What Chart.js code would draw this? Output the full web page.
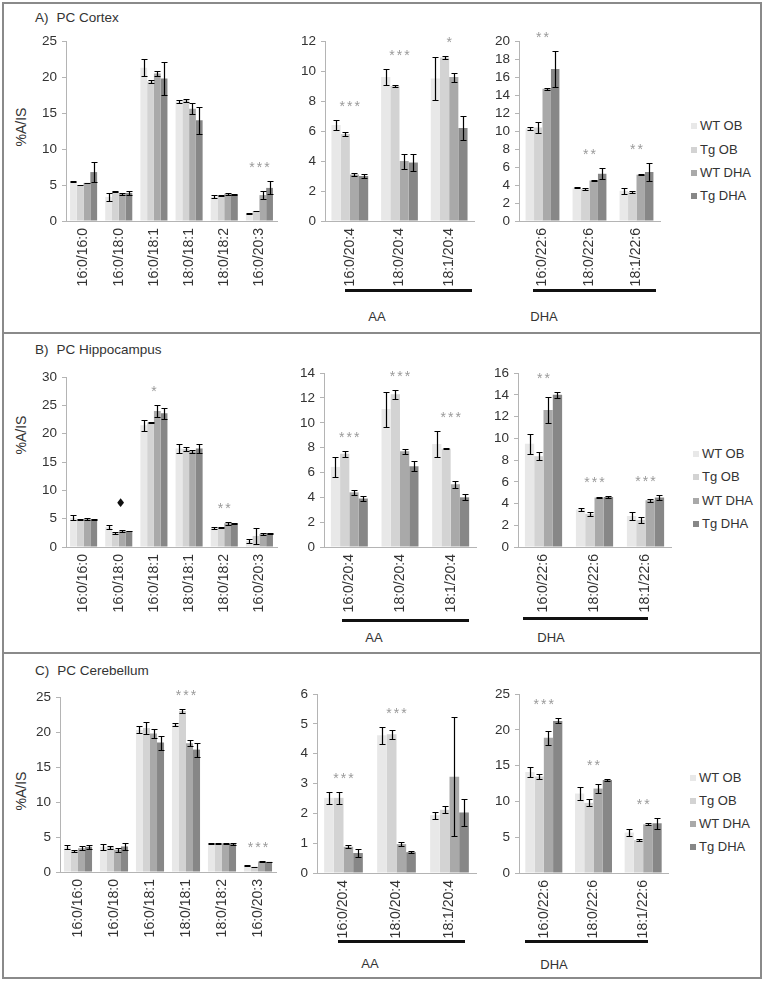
<!DOCTYPE html>
<html>
<head>
<meta charset="utf-8">
<script src="https://cdn.jsdelivr.net/npm/chart.js@4.4.0/dist/chart.umd.min.js"></script>
<style>
  body { margin: 0; background: #fff; }
  #fig { position: relative; width: 766px; height: 981px; font-family: "Liberation Sans", Arial, sans-serif; color: #333; }
  #fig canvas { position: absolute; }
  .line { position: absolute; background: #8a8a8a; }
  .ttl { position: absolute; font-size: 13.5px; line-height: 16px; white-space: nowrap; }
  .ytl { position: absolute; font-size: 14px; white-space: nowrap; transform: translate(-50%, -50%) rotate(-90deg); }
  .grp { position: absolute; font-size: 13px; transform: translate(-50%, -50%); }
  .under { position: absolute; height: 3px; background: #111; }
  .leg { position: absolute; font-size: 13px; line-height: 16px; white-space: nowrap; }
  .leg i { display: inline-block; width: 6px; height: 6px; margin-right: 3px; vertical-align: 1px; }
</style>
</head>
<body>
<div id="fig">
  <!-- frame -->
  <div class="line" style="left:2px;top:2px;width:760px;height:2px"></div>
  <div class="line" style="left:2px;top:332px;width:760px;height:2px"></div>
  <div class="line" style="left:2px;top:652px;width:760px;height:2px"></div>
  <div class="line" style="left:2px;top:977px;width:760px;height:2px"></div>
  <div class="line" style="left:2px;top:2px;width:2px;height:977px"></div>
  <div class="line" style="left:760px;top:2px;width:2px;height:977px"></div>

  <div class="ttl" style="left:35px;top:10px">A)<span style="margin-left:8px">PC Cortex</span></div>
  <div class="ttl" style="left:35px;top:342px">B)<span style="margin-left:8px">PC Hippocampus</span></div>
  <div class="ttl" style="left:35px;top:663px">C)<span style="margin-left:8px">PC Cerebellum</span></div>

  <div class="ytl" style="left:21px;top:127px">%A/IS</div>
  <div class="ytl" style="left:21px;top:435px">%A/IS</div>
  <div class="ytl" style="left:21px;top:791px">%A/IS</div>

  <div class="under" style="left:345px;top:289px;width:127px"></div>
  <div class="under" style="left:533px;top:289px;width:123px"></div>
  <div class="grp" style="left:377px;top:316px">AA</div>
  <div class="grp" style="left:544px;top:316px">DHA</div>

  <div class="under" style="left:342px;top:619px;width:127px"></div>
  <div class="under" style="left:523px;top:617px;width:125px"></div>
  <div class="grp" style="left:374px;top:637px">AA</div>
  <div class="grp" style="left:551px;top:637px">DHA</div>

  <div class="under" style="left:338px;top:940px;width:127px"></div>
  <div class="under" style="left:525px;top:940px;width:123px"></div>
  <div class="grp" style="left:370px;top:963px">AA</div>
  <div class="grp" style="left:554px;top:964px">DHA</div>
</div>
<script>
Chart.defaults.font.family = '"Liberation Sans", Arial, sans-serif';
Chart.defaults.color = '#333';

// series and categories
var seriesNames = ['WT OB', 'Tg OB', 'WT DHA', 'Tg DHA'];
var seriesColors = ['#e8e8e8', '#d3d3d3', '#a9a9a9', '#878787'];
var mainLabels = ['16:0/16:0', '16:0/18:0', '16:0/18:1', '18:0/18:1', '18:0/18:2', '16:0/20:3'];
var aaLabels = ['16:0/20:4', '18:0/20:4', '18:1/20:4'];
var dhaLabels = ['16:0/22:6', '18:0/22:6', '18:1/22:6'];

// A) cortex  (rows = WT OB, Tg OB, WT DHA, Tg DHA)
var cortexMain = [
  [5.5, 3.35, 21.3, 16.6, 3.35, 1.0],
  [5.0, 4.1, 19.4, 16.8, 3.5, 1.4],
  [5.3, 3.8, 20.5, 15.6, 3.8, 3.6],
  [6.8, 3.9, 19.8, 14.0, 3.7, 4.6]
];
var cortexMainErr = [
  [0.1, 0.55, 1.2, 0.2, 0.2, 0.05],
  [0.05, 0.12, 0.2, 0.2, 0.05, 0.05],
  [0.05, 0.12, 0.4, 0.8, 0.15, 0.55],
  [1.4, 0.25, 2.3, 1.9, 0.08, 0.9]
];
var cortexMainSig = ['', '', '', '', '', '***'];

var cortexAA = [
  [6.4, 9.6, 9.5],
  [5.8, 9.0, 10.9],
  [3.1, 4.0, 9.6],
  [3.0, 3.9, 6.2]
];
var cortexAAErr = [
  [0.33, 0.55, 1.45],
  [0.15, 0.05, 0.1],
  [0.12, 0.5, 0.3],
  [0.12, 0.55, 0.8]
];
var cortexAASig = ['***', '***', '*'];

var cortexDHA = [
  [10.3, 3.7, 3.35],
  [10.4, 3.55, 3.2],
  [14.7, 4.5, 5.15],
  [16.9, 5.25, 5.45]
];
var cortexDHAErr = [
  [0.2, 0.05, 0.3],
  [0.65, 0.1, 0.08],
  [0.1, 0.05, 0.05],
  [2.0, 0.6, 1.0]
];
var cortexDHASig = ['**', '**', '**'];

// B) hippocampus
var hippoMain = [
  [5.15, 3.5, 21.5, 17.4, 3.35, 1.05],
  [4.9, 2.5, 22.0, 17.3, 3.4, 1.95],
  [5.0, 2.8, 24.0, 16.9, 4.2, 2.3],
  [4.9, 2.8, 23.6, 17.4, 4.2, 2.45]
];
var hippoMainErr = [
  [0.45, 0.4, 1.0, 0.8, 0.2, 0.35],
  [0.05, 0.15, 0.1, 0.4, 0.05, 1.35],
  [0.2, 0.15, 1.1, 0.3, 0.25, 0.2],
  [0.05, 0.05, 0.95, 0.75, 0.1, 0.1]
];
var hippoMainSig = ['', '\u2666', '*', '', '**', ''];

var hippoAA = [
  [6.45, 11.1, 8.3],
  [7.5, 12.3, 7.9],
  [4.4, 7.7, 5.05],
  [3.9, 6.5, 4.0]
];
var hippoAAErr = [
  [0.8, 1.4, 1.05],
  [0.25, 0.35, 0.05],
  [0.2, 0.2, 0.3],
  [0.2, 0.4, 0.25]
];
var hippoAASig = ['***', '***', '***'];

var hippoDHA = [
  [9.5, 3.45, 2.85],
  [8.35, 3.05, 2.5],
  [12.6, 4.55, 4.3],
  [14.0, 4.6, 4.55]
];
var hippoDHAErr = [
  [0.9, 0.15, 0.35],
  [0.35, 0.2, 0.3],
  [1.2, 0.03, 0.15],
  [0.25, 0.05, 0.25]
];
var hippoDHASig = ['**', '***', '***'];

// C) cerebellum
var cerebMain = [
  [3.55, 3.6, 20.3, 21.1, 4.1, 0.9],
  [3.0, 3.55, 20.6, 23.0, 4.1, 0.75],
  [3.4, 3.2, 19.8, 18.4, 4.1, 1.5],
  [3.6, 3.65, 18.5, 17.5, 4.0, 1.45]
];
var cerebMainErr = [
  [0.25, 0.4, 0.5, 0.2, 0.05, 0.03],
  [0.2, 0.2, 0.9, 0.3, 0.1, 0.02],
  [0.25, 0.3, 0.6, 0.4, 0.1, 0.1],
  [0.3, 0.45, 1.0, 1.0, 0.2, 0.05]
];
var cerebMainSig = ['', '', '', '***', '', '***'];

var cerebAA = [
  [2.52, 4.62, 1.94],
  [2.52, 4.65, 2.12],
  [0.88, 0.97, 3.23],
  [0.67, 0.7, 2.03]
];
var cerebAAErr = [
  [0.2, 0.28, 0.12],
  [0.2, 0.15, 0.12],
  [0.05, 0.07, 2.0],
  [0.12, 0.04, 0.45]
];
var cerebAASig = ['***', '***', ''];

var cerebDHA = [
  [14.1, 11.1, 5.65],
  [13.5, 9.8, 4.6],
  [18.9, 11.8, 6.8],
  [21.25, 13.0, 6.95]
];
var cerebDHAErr = [
  [0.7, 0.85, 0.5],
  [0.35, 0.5, 0.15],
  [1.0, 0.6, 0.15],
  [0.35, 0.15, 0.75]
];
var cerebDHASig = ['***', '**', '**'];

// error bars + significance marks
var errorBars = {
  id: 'errorBars',
  afterDatasetsDraw: function(chart, args, opts) {
    var ctx = chart.ctx, ys = chart.scales.y, xs = chart.scales.x;
    ctx.save();
    ctx.strokeStyle = '#000';
    ctx.lineWidth = 1.2;
    chart.data.datasets.forEach(function(ds, i) {
      chart.getDatasetMeta(i).data.forEach(function(bar, j) {
        var e = ds.err[j];
        if (!e) return;
        var x = Math.round(bar.x) + 0.5;
        var t = Math.round(ys.getPixelForValue(ds.data[j] + e)) + 0.5;
        var b = Math.round(ys.getPixelForValue(ds.data[j] - e)) + 0.5;
        ctx.beginPath();
        ctx.moveTo(x, t); ctx.lineTo(x, b);
        ctx.moveTo(x - 3, t); ctx.lineTo(x + 3, t);
        ctx.moveTo(x - 3, b); ctx.lineTo(x + 3, b);
        ctx.stroke();
      });
    });
    (opts.sig || []).forEach(function(s, j) {
      if (!s) return;
      var top = 0;
      chart.data.datasets.forEach(function(ds) { top = Math.max(top, ds.data[j] + ds.err[j]); });
      var cx = xs.getPixelForValue(j);
      var cy = ys.getPixelForValue(top) - 17;
      ctx.textAlign = 'center';
      if (s === '\u2666') {
        ctx.font = '12px "DejaVu Sans"';
        ctx.fillStyle = '#111';
        ctx.textBaseline = 'middle';
        ctx.fillText(s, cx + 2, cy - 4);
      } else {
        ctx.font = '14px "Liberation Sans"';
        ctx.fillStyle = '#999';
        ctx.textBaseline = 'alphabetic';
        for (var k = 0; k < s.length; k++) {
          ctx.fillText('*', cx + (k - (s.length - 1) / 2) * 7.5, cy + 8);
        }
      }
    });
    ctx.restore();
  }
};

function barChart(box, labels, vals, errs, sig, yMax, yStep, pct) {
  var W = 40, PT = 12, PR = 10, H = 75;
  var cv = document.createElement('canvas');
  cv.width = W + box[1] - box[0] + PR;
  cv.height = PT + box[3] - box[2] + H;
  cv.style.left = (box[0] - W) + 'px';
  cv.style.top = (box[2] - PT) + 'px';
  document.getElementById('fig').appendChild(cv);
  return new Chart(cv, {
    type: 'bar',
    data: {
      labels: labels,
      datasets: seriesNames.map(function(n, i) {
        return {
          label: n,
          data: vals[i],
          err: errs[i],
          backgroundColor: seriesColors[i],
          borderWidth: 0,
          categoryPercentage: pct,
          barPercentage: 1
        };
      })
    },
    options: {
      responsive: false,
      animation: false,
      devicePixelRatio: 1,
      layout: { padding: { top: PT, right: PR, left: 0, bottom: 0 } },
      plugins: { legend: { display: false }, tooltip: { enabled: false }, errorBars: { sig: sig } },
      scales: {
        x: {
          grid: { display: false, drawTicks: false },
          border: { display: true, color: '#b4b4b4' },
          ticks: { font: { size: 14 }, color: '#333', minRotation: 90, maxRotation: 90, autoSkip: false, padding: 7 },
          afterFit: function(s) { s.height = H; }
        },
        y: {
          min: 0,
          max: yMax,
          grid: { display: true, drawOnChartArea: false, drawTicks: true, tickLength: 4, color: '#b4b4b4' },
          border: { display: true, color: '#b4b4b4' },
          ticks: { stepSize: yStep, autoSkip: false, font: { size: 13.5 }, color: '#333', padding: 5 },
          afterFit: function(s) { s.width = W; }
        }
      }
    },
    plugins: [errorBars]
  });
}

function legend(x, rows) {
  var fig = document.getElementById('fig');
  seriesNames.forEach(function(n, i) {
    var d = document.createElement('div');
    d.className = 'leg';
    d.style.left = x + 'px';
    d.style.top = (rows[i] - 8) + 'px';
    d.innerHTML = '<i style="background:' + seriesColors[i] + '"></i>' + n;
    fig.appendChild(d);
  });
}

// box = [axis left, axis right, top of y range, zero line]
barChart([66, 277, 40, 221], mainLabels, cortexMain, cortexMainErr, cortexMainSig, 25, 5, 0.77);
barChart([325, 474, 40, 221], aaLabels, cortexAA, cortexAAErr, cortexAASig, 12, 2, 0.74);
barChart([519, 660, 40, 221], dhaLabels, cortexDHA, cortexDHAErr, cortexDHASig, 20, 2, 0.72);
legend(691, [126, 150, 173, 196]);

barChart([66, 277, 376, 547], mainLabels, hippoMain, hippoMainErr, hippoMainSig, 30, 5, 0.77);
barChart([324, 476, 372, 547], aaLabels, hippoAA, hippoAAErr, hippoAASig, 14, 2, 0.73);
barChart([518, 671, 372, 547], dhaLabels, hippoDHA, hippoDHAErr, hippoDHASig, 16, 2, 0.73);
legend(693, [454, 477, 501, 524]);

barChart([60, 276, 696, 872], mainLabels, cerebMain, cerebMainErr, cerebMainSig, 25, 5, 0.78);
barChart([317, 476, 693, 873], aaLabels, cerebAA, cerebAAErr, cerebAASig, 6, 1, 0.73);
barChart([519, 668, 693, 873], dhaLabels, cerebDHA, cerebDHAErr, cerebDHASig, 25, 5, 0.745);
legend(690, [778, 801, 824, 847]);
</script>
</body>
</html>
